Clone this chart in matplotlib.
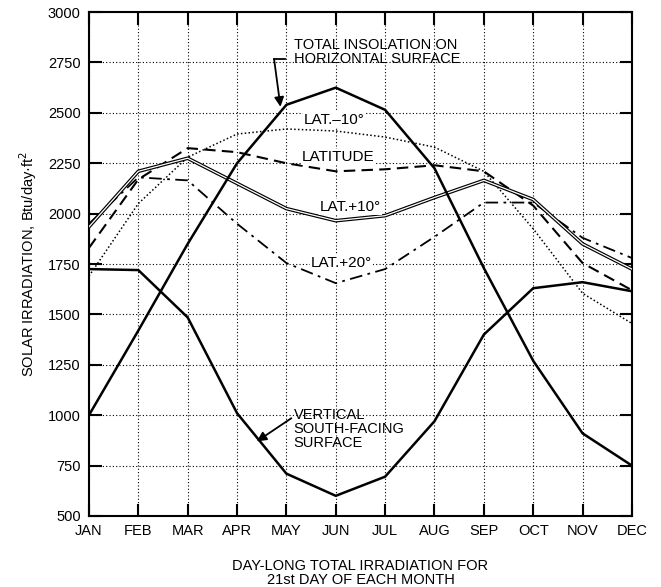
import numpy as np
import matplotlib
matplotlib.use("Agg")
import matplotlib.pyplot as plt

plt.rcParams['font.family'] = ['Liberation Sans', 'DejaVu Sans']

# Datos (Btu/day·ft2, dia 21 de cada mes)
meses = ['JAN', 'FEB', 'MAR', 'APR', 'MAY', 'JUN', 'JUL', 'AUG', 'SEP', 'OCT', 'NOV', 'DEC']
horizontal = [1000, 1420, 1850, 2250, 2540, 2625, 2515, 2225, 1730, 1270, 910, 750]
vertical = [1725, 1720, 1485, 1010, 710, 600, 695, 970, 1400, 1630, 1660, 1615]
lat_menos10 = [1690, 2050, 2280, 2395, 2420, 2410, 2380, 2330, 2210, 1925, 1605, 1455]
latitud = [1830, 2170, 2325, 2305, 2250, 2210, 2220, 2240, 2210, 2040, 1755, 1620]
lat_mas10 = [1935, 2210, 2275, 2150, 2025, 1965, 1990, 2080, 2165, 2070, 1850, 1725]
lat_mas20 = [1950, 2180, 2165, 1950, 1755, 1655, 1725, 1885, 2055, 2055, 1880, 1780]

yticks = list(range(500, 3001, 250))

x = np.arange(len(meses))

fig = plt.figure(figsize=(6.61, 5.87), dpi=100)
ax = fig.add_axes([0.1346, 0.121, 0.8214, 0.8584])

lw = 1.8
ax.plot(x, horizontal, color='black', lw=lw, zorder=5)
ax.plot(x, vertical, color='black', lw=lw, zorder=5)
ax.plot(x, lat_menos10, color='black', lw=1.1, linestyle=(0, (1, 1.5)), zorder=4)
ax.plot(x, latitud, color='black', lw=1.5, linestyle=(0, (5.5, 3)), zorder=4)
# linea doble: negra gruesa con una blanca fina encima
ax.plot(x, lat_mas10, color='black', lw=2.6, zorder=4)
ax.plot(x, lat_mas10, color='white', lw=0.9, zorder=4.1)
ax.plot(x, lat_mas20, color='black', lw=1.3, linestyle=(0, (7, 3, 1.5, 3)), zorder=4)

ax.set_xlim(0, 11)
ax.set_ylim(500, 3000)
ax.set_xticks(x)
ax.set_xticklabels(meses)
ax.set_yticks(yticks)
ax.grid(True, color='black', linestyle=(0, (1, 2)), linewidth=0.8)
ax.tick_params(direction='in', length=9, width=1.5, top=True, right=True,
               labelsize=10.5, pad=6)
for s in ax.spines.values():
    s.set_linewidth(1.5)

ax.set_ylabel('SOLAR IRRADIATION, Btu/day·ft$^2$', fontsize=10.5, labelpad=6)
ax.set_xlabel('DAY-LONG TOTAL IRRADIATION FOR\n21st DAY OF EACH MONTH',
              fontsize=10.5, labelpad=15, linespacing=0.95)

caja = dict(facecolor='white', edgecolor='none', pad=0.5)
ax.text(4.96, 2464, 'LAT.–10°', fontsize=11, ha='center', va='center', bbox=caja, zorder=6)
ax.text(5.04, 2281, 'LATITUDE', fontsize=11, ha='center', va='center', bbox=caja, zorder=6)
ax.text(5.3, 2033, 'LAT.+10°', fontsize=11, ha='center', va='center', bbox=caja, zorder=6)
ax.text(5.12, 1755, 'LAT.+20°', fontsize=11, ha='center', va='center', bbox=caja, zorder=6)

ax.text(4.15, 2800, 'TOTAL INSOLATION ON\nHORIZONTAL SURFACE', fontsize=10.5,
        ha='left', va='center', linespacing=1.0, zorder=6)
ax.plot([3.75, 3.98], [2765, 2765], color='black', lw=1.3, zorder=6)
ax.annotate('', xy=(3.88, 2530), xytext=(3.75, 2767),
            arrowprops=dict(arrowstyle='-|>', color='black', lw=1.3,
                            mutation_scale=14, shrinkA=0, shrinkB=0), zorder=6)

ax.text(4.15, 930, 'VERTICAL\nSOUTH-FACING\nSURFACE', fontsize=10.5,
        ha='left', va='center', linespacing=1.0, zorder=6)
ax.annotate('', xy=(3.4, 870), xytext=(4.1, 985),
            arrowprops=dict(arrowstyle='-|>', color='black', lw=1.3,
                            mutation_scale=14, shrinkA=0, shrinkB=0), zorder=6)

fig.savefig('out.png', dpi=100)
